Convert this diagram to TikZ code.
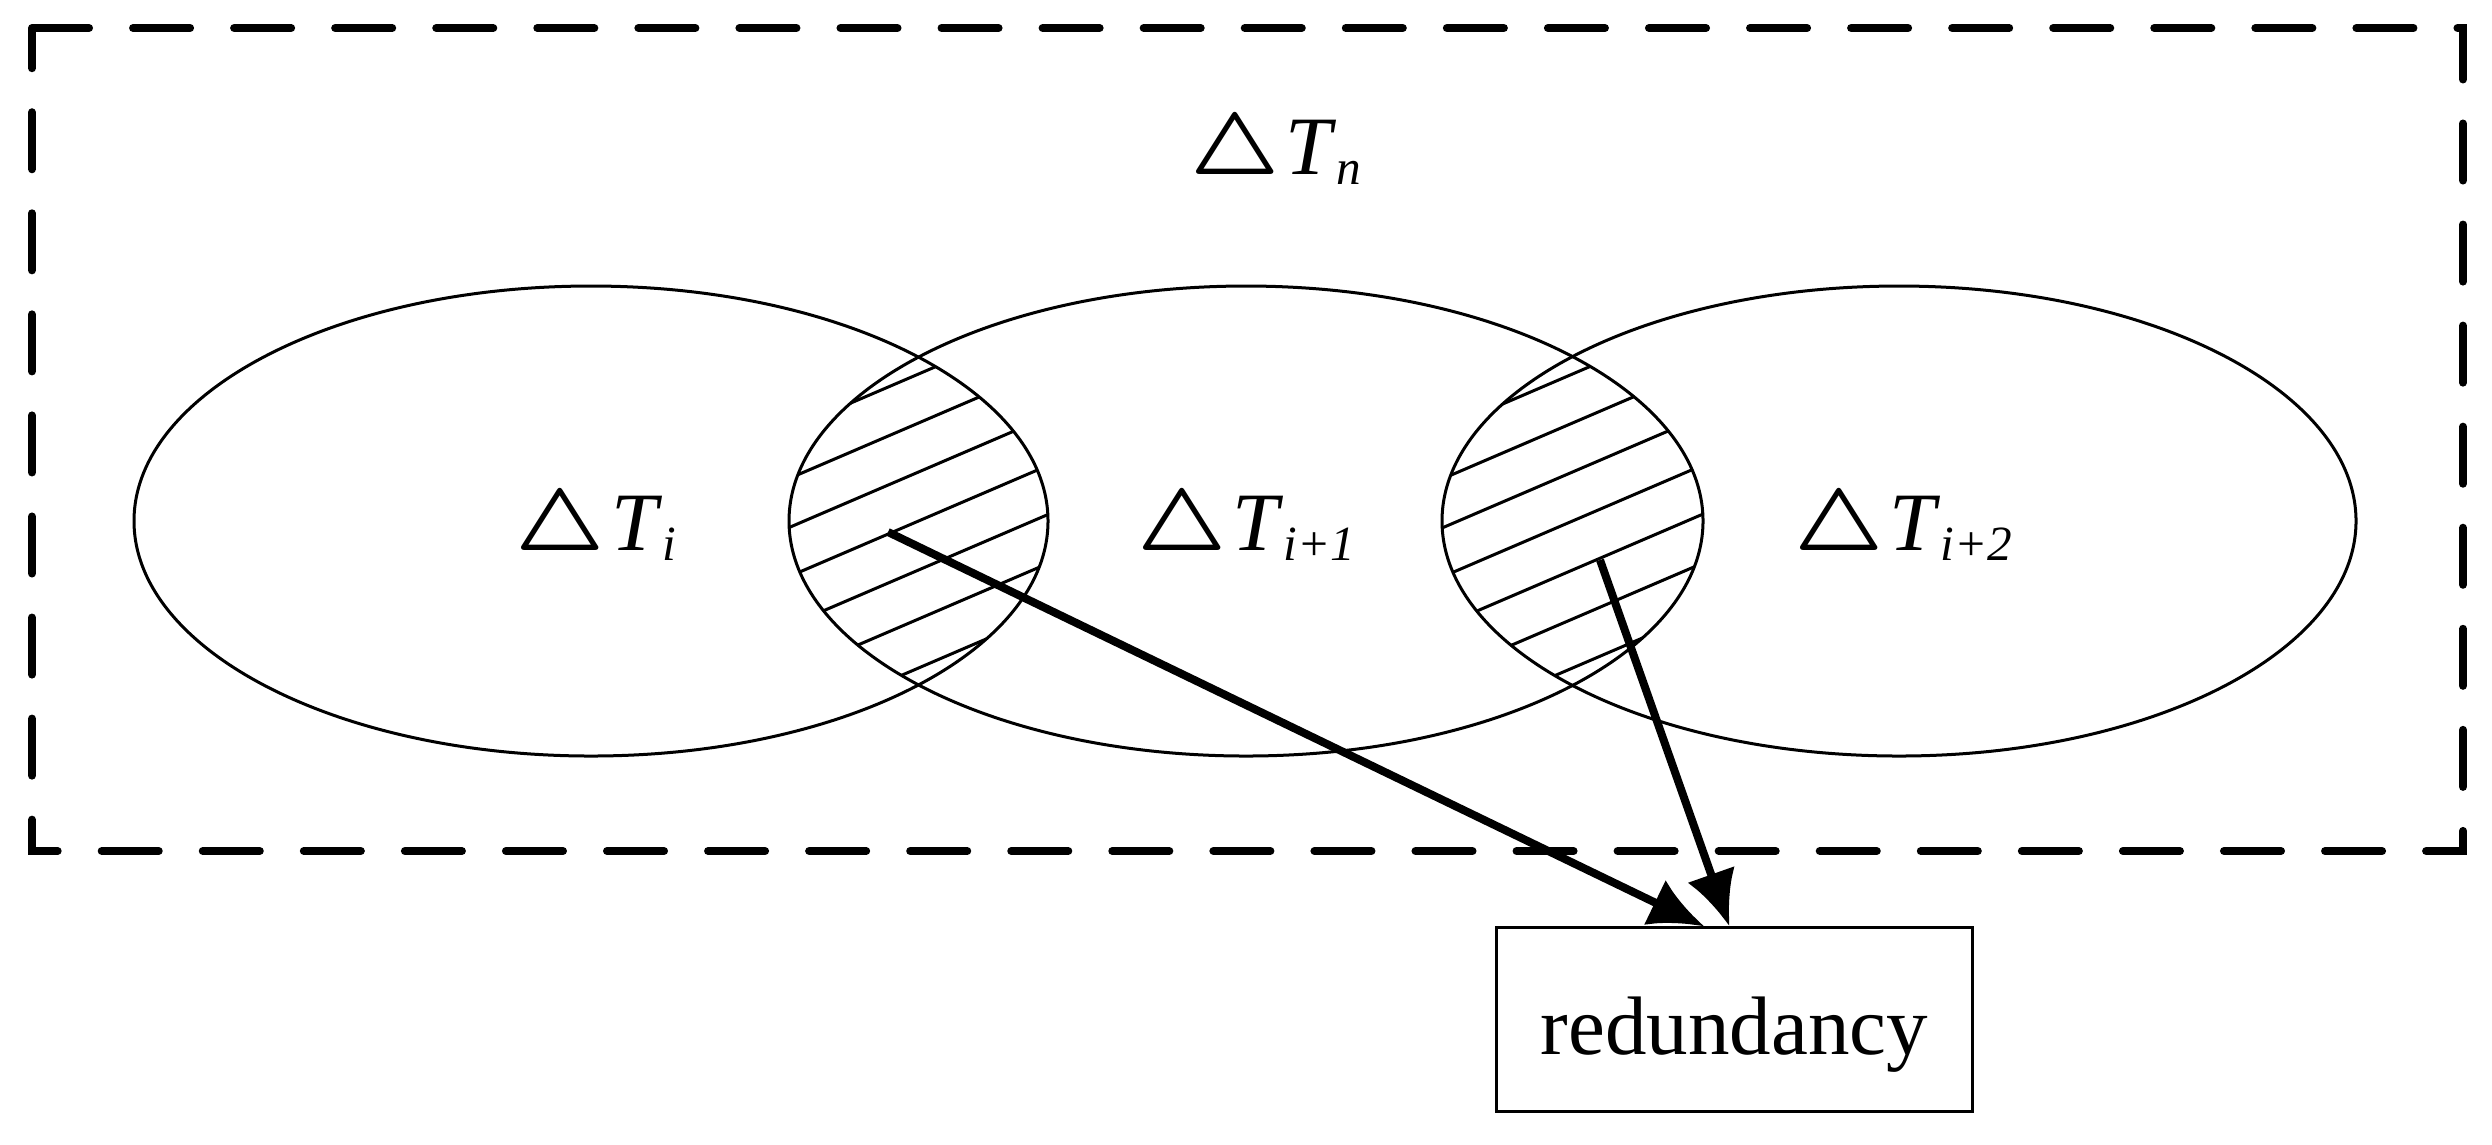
\documentclass[tikz,border=0pt]{standalone}
\usepackage{fontspec}
\setmainfont{Liberation Serif}
\usepackage{tikz}
\usetikzlibrary{arrows.meta,positioning,calc}

\newcommand{\dT}[1]{{\boldmath$\bigtriangleup$}\hspace{0.06cm}\textit{T}\raisebox{-0.1cm}{\fontsize{14}{14}\selectfont\textit{#1}}}

\begin{document}
\begin{tikzpicture}[
  x=0.01cm, y=-0.01cm,
  set/.style={line width=0.03cm},
  hatch/.style={line width=0.03cm},
  lbl/.style={anchor=base,inner sep=0pt,font=\fontsize{23.6}{28}\selectfont},
  box/.style={rectangle,draw,line width=0.03cm,minimum width=4.75cm,minimum height=1.83cm,
    text height=0.9cm,text depth=0.2cm,font=\fontsize{23.6}{28}\selectfont},
  arr/.style={-{Latex[length=0.55cm,width=0.5cm]},line width=0.08cm},
]
\useasboundingbox (0,0) rectangle (2492,1144);

% Frame
\draw[line width=0.08cm,line cap=round,dash pattern=on 0.57cm off 0.44cm]
  (32,28) -- (2463,28) -- (2463,851) -- (32,851) -- cycle;

% Overlaps
\foreach \a/\b/\cx in {591/1246/918.5, 1246/1899/1572.5}{
  \begin{scope}
    \clip (\a,521) ellipse [x radius=457, y radius=235];
    \clip (\b,521) ellipse [x radius=457, y radius=235];
    \foreach \k in {-147,-98,...,147}
      \draw[hatch] (\cx-170,521+\k+72.9) -- (\cx+170,521+\k-72.9);
  \end{scope}
}

% Ellipses
\draw[set] (591,521) ellipse [x radius=457, y radius=235];
\draw[set] (1246,521) ellipse [x radius=457, y radius=235];
\draw[set] (1899,521) ellipse [x radius=457, y radius=235];

% Labels
\node[lbl] (Tn) at (1276,174) {\dT{n}};
\node[lbl] (Ti) at (596,550) {\dT{i}};
\node[lbl] (Ti1) at (1246,550) {\dT{i+1}};
\node[lbl] (Ti2) at (1903,550) {\dT{i+2}};

% Redundancy
\node[box] (red) at (1734.5,1019.5) {redundancy};
\coordinate (o1) at (888,532);
\coordinate (o2) at (1600,560);
\draw[arr] (o1) -- ([xshift=-0.3cm]red.north);
\draw[arr] (o2) -- ([xshift=-0.05cm]red.north);

\end{tikzpicture}
\end{document}
